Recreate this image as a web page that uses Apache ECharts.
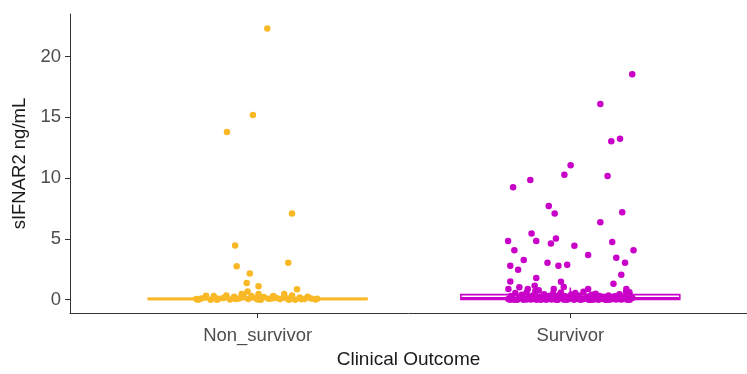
<!DOCTYPE html>
<html>
<head>
<meta charset="utf-8">
<script src="https://cdn.jsdelivr.net/npm/echarts@6/dist/echarts.min.js"></script>
<style>
html,body{margin:0;padding:0;background:#fff;}
#chart{width:747px;height:374px;}
</style>
</head>
<body>
<div id="chart"></div>
<script>
// ---- data ----
const categories = ['Non_survivor', 'Survivor'];
const yTicks = [0, 5, 10, 15, 20];

// box statistics per category: [lower whisker, q1, median, q3, upper whisker]
const nonSurvivorBox = [0.0, 0.02, 0.06, 0.12, 0.3];
const survivorBox = [0.0, 0.02, 0.12, 0.42, 1.0];

// jittered points: horizontal jitter offset (category units) and value
const nonSurvivorJitter = [0.031,-0.015,-0.098,0.110,-0.072,-0.067,0.098,-0.025,-0.035,0.003,-0.032,0.126,0.003,-0.051,0.085,-0.165,
  -0.196,-0.18,-0.165,-0.15,-0.14,-0.125,-0.11,-0.1,-0.088,-0.075,-0.06,-0.045,-0.03,-0.02,-0.005,0.01,0.02,0.035,0.05,0.06,0.072,0.085,0.095,0.11,0.12,0.135,0.15,0.16,0.172,0.185,-0.13,-0.07,0.0,0.045,0.1,0.14,-0.19,0.19];
const nonSurvivorValues = [22.3,15.2,13.8,7.1,4.45,2.75,3.05,2.15,1.38,1.1,0.68,0.87,0.48,0.48,0.48,0.32,
  0.05,0.1,0.2,0.0,0.3,0.08,0.15,0.35,0.02,0.25,0.1,0.4,0.05,0.3,0.12,0.0,0.22,0.08,0.3,0.15,0.05,0.2,0.1,0.35,0.0,0.18,0.05,0.25,0.1,0.02,0.0,0.05,0.02,0.1,0.0,0.04,0.0,0.08];

const survivorJitter = [0.198,0.096,0.131,0.159,0.001,-0.019,-0.128,-0.183,0.119,-0.069,-0.050,0.166,0.096,
  -0.199,-0.124,-0.109,-0.046,-0.062,0.013,0.134,0.202,-0.179,-0.149,0.057,0.147,-0.192,-0.167,-0.073,-0.038,-0.010,0.175,0.163,0.138,
  -0.192,-0.109,-0.030,-0.198,-0.163,-0.136,-0.114,-0.101,-0.053,-0.021,0.179,0.189,0.057,
  -0.198,-0.19,-0.185,-0.176,-0.17,-0.162,-0.155,-0.148,-0.14,-0.133,
  -0.126,-0.12,-0.112,-0.105,-0.098,-0.09,-0.084,-0.077,-0.07,-0.063,
  -0.056,-0.05,-0.043,-0.036,-0.03,-0.023,-0.017,-0.01,-0.004,0.003,
  0.009,0.016,0.022,0.029,0.035,0.042,0.048,0.055,0.061,0.068,
  0.074,0.081,0.088,0.094,0.101,0.108,0.115,0.122,0.129,0.136,
  0.143,0.15,0.157,0.164,0.171,0.178,0.185,0.192,0.198,-0.18,
  -0.15,-0.118,-0.095,-0.06,-0.04,-0.012,0.012,0.04,0.07,0.1,
  0.125,0.16,0.19,-0.165,-0.108,-0.075,-0.02,0.025,0.058,0.09,
  -0.193,-0.14,-0.085,-0.045,0.0,0.032,0.078,0.112,0.146,0.182];
const survivorValues = [18.55,16.09,13.04,13.23,11.06,10.28,9.85,9.26,10.17,7.71,7.09,7.2,6.37,
  4.84,5.44,4.84,5.04,4.63,4.44,4.74,4.07,4.07,3.27,3.67,3.45,2.79,2.47,3.05,2.79,2.87,3.05,2.06,1.31,
  1.5,1.79,1.47,0.88,1.02,0.88,1.15,0.78,0.88,1.04,0.88,0.62,0.88,
  0.05,0.3,0.1,0.55,0.0,0.2,0.4,0.08,0.6,0.15,
  0.02,0.35,0.7,0.1,0.25,0.05,0.45,0.0,0.3,0.12,
  0.5,0.2,0.03,0.38,0.6,0.1,0.28,0.0,0.15,0.42,
  0.08,0.55,0.2,0.32,0.05,0.65,0.12,0.25,0.0,0.4,
  0.18,0.5,0.06,0.3,0.1,0.22,0.0,0.35,0.15,0.05,
  0.28,0.1,0.45,0.02,0.2,0.6,0.08,0.3,0.15,0.0,
  0.0,0.05,0.0,0.02,0.0,0.05,0.0,0.03,0.0,0.06,
  0.0,0.04,0.0,0.1,0.0,0.12,0.0,0.08,0.02,0.0,
  0.0,0.02,0.05,0.0,0.1,0.0,0.04,0.0,0.02,0.0];

const colors = ['#F9B826', '#C800C8'];

// ---- build ----
const boxData = [[1].concat(nonSurvivorBox), [2].concat(survivorBox)];
function pts(pos, jit, vals) { return vals.map((v, i) => [pos + jit[i], v]); }

const chart = echarts.init(document.getElementById('chart'), null, {renderer: 'canvas'});
const FONT = 'Liberation Sans, Arial, sans-serif';
chart.setOption({
  animation: false,
  backgroundColor: '#fff',
  grid: {left: 70, right: 0, top: 14, bottom: 54, containLabel: false},
  xAxis: {
    type: 'value', min: 0.4, max: 2.565,
    name: 'Clinical Outcome', nameLocation: 'middle', nameGap: 35,
    nameTextStyle: {color: '#1a1a1a', fontSize: 19, fontFamily: FONT},
    splitLine: {show: false},
    axisLine: {show: true, onZero: false, lineStyle: {color: '#333', width: 1}},
    axisTick: {show: true, length: 5, customValues: [1, 2], lineStyle: {color: '#333'}},
    axisLabel: {customValues: [1, 2], margin: 13, color: '#4d4d4d', fontSize: 18.5, fontFamily: FONT,
      formatter: v => categories[Math.round(v) - 1] || ''}
  },
  yAxis: {
    type: 'value', min: -1.1, max: 23.5,
    name: 'sIFNAR2 ng/mL', nameLocation: 'middle', nameGap: 32, nameRotate: 90,
    nameTextStyle: {color: '#1a1a1a', fontSize: 18.5, fontFamily: FONT},
    splitLine: {show: false},
    axisLine: {show: true, onZero: false, lineStyle: {color: '#333', width: 1}},
    axisTick: {show: true, length: 5, customValues: yTicks, lineStyle: {color: '#333'}},
    axisLabel: {customValues: yTicks, margin: 9, color: '#4d4d4d', fontSize: 18.5, fontFamily: FONT}
  },
  series: [
    {
      type: 'custom',
      data: boxData,
      encode: {x: 0, y: [1, 2, 3, 4, 5]},
      z: 2,
      renderItem: function (params, api) {
        const x = api.value(0);
        const hw = 0.35;
        const col = colors[params.dataIndex];
        const lo = api.coord([x, api.value(1)]);
        const q1 = api.coord([x - hw, api.value(2)]);
        const med = api.value(3);
        const q3 = api.coord([x + hw, api.value(4)]);
        const hi = api.coord([x, api.value(5)]);
        const mL = api.coord([x - hw, med]);
        const mR = api.coord([x + hw, med]);
        const st = {stroke: col, lineWidth: 1.6, fill: null};
        return {
          type: 'group',
          children: [
            {type: 'line', shape: {x1: hi[0], y1: hi[1], x2: hi[0], y2: q3[1]}, style: st},
            {type: 'line', shape: {x1: lo[0], y1: lo[1], x2: lo[0], y2: q1[1]}, style: st},
            {type: 'rect', shape: {x: q1[0], y: q3[1], width: q3[0] - q1[0], height: q1[1] - q3[1]},
              style: {stroke: col, lineWidth: 1.6, fill: '#fff'}},
            {type: 'line', shape: {x1: mL[0], y1: mL[1], x2: mR[0], y2: mR[1]}, style: {stroke: col, lineWidth: 2.4}}
          ]
        };
      }
    },
    {
      type: 'scatter', name: categories[0], z: 3,
      data: pts(1, nonSurvivorJitter, nonSurvivorValues),
      symbol: 'circle', symbolSize: 6.5,
      itemStyle: {color: colors[0], opacity: 1}
    },
    {
      type: 'scatter', name: categories[1], z: 3,
      data: pts(2, survivorJitter, survivorValues),
      symbol: 'circle', symbolSize: 6.5,
      itemStyle: {color: colors[1], opacity: 1}
    }
  ]
});
</script>
</body>
</html>
